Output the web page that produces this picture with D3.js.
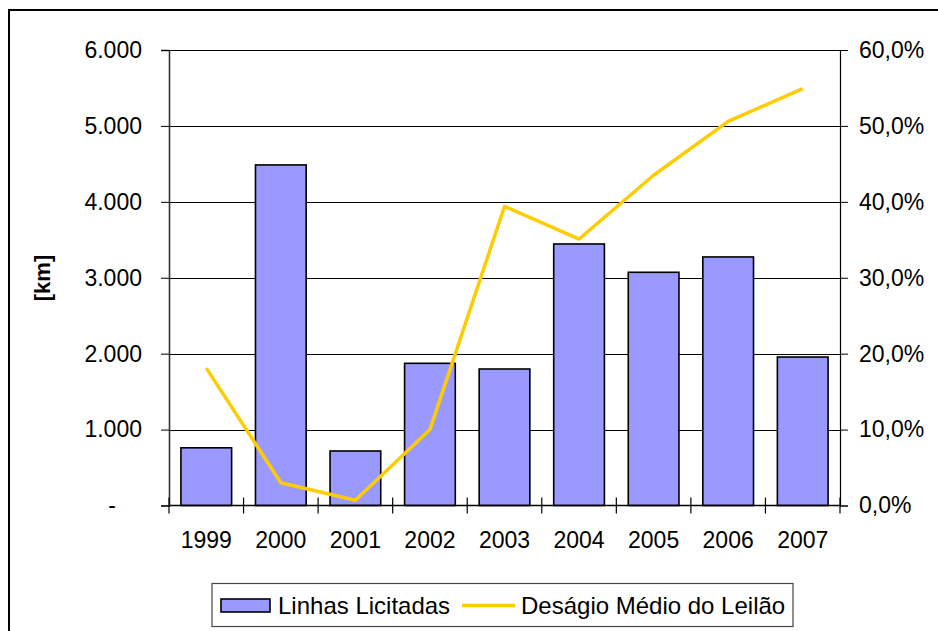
<!DOCTYPE html>
<meta charset="utf-8">
<head>
    <script src="https://d3js.org/d3.v7.min.js"></script>
    <style>
        body { margin: 0; background: #fff; }
        text { font-family: "Liberation Sans", Arial, Helvetica, sans-serif; fill: #000; }
    </style>
</head>
<body>
<div id="graph"></div>
<script>
    // data
    var years = ["1999", "2000", "2001", "2002", "2003", "2004", "2005", "2006", "2007"];
    var linhas = [760, 4486, 718, 1873, 1798, 3445, 3072, 3274, 1956];      // km
    var desagio = [18.1, 3.0, 0.7, 10.0, 39.4, 35.1, 43.5, 50.6, 54.9];      // %
    var leftTicks = [0, 1000, 2000, 3000, 4000, 5000, 6000];
    var rightTicks = [0, 10, 20, 30, 40, 50, 60];
    var seriesNames = ["Linhas Licitadas", "Deságio Médio do Leilão"];

    var W = 938, H = 631;
    var margin = {top: 50, right: 98, bottom: 125.5, left: 169};
    var width = W - margin.left - margin.right,
        height = H - margin.top - margin.bottom;

    var svg = d3.select("#graph").append("svg")
        .attr("width", W)
        .attr("height", H);

    // outer frame (runs off the right/bottom)
    svg.append("rect")
        .attr("x", 9).attr("y", 10)
        .attr("width", 960).attr("height", 660)
        .attr("fill", "none").attr("stroke", "#000").attr("stroke-width", 2);

    var g = svg.append("g")
        .attr("transform", "translate(" + margin.left + "," + margin.top + ")");

    var x = d3.scaleBand().domain(years).range([0, width]).paddingInner(0.32).paddingOuter(0.16);
    var xTick = d3.scaleBand().domain(years).range([0, width]);
    var yL = d3.scaleLinear().domain([0, 6000]).range([height, 0]);
    var yR = d3.scaleLinear().domain([0, 60]).range([height, 0]);

    // gridlines
    g.append("g")
        .selectAll("line")
        .data(leftTicks.slice(1))
        .enter().append("line")
        .attr("x1", 0).attr("x2", width)
        .attr("y1", function(d) { return Math.round(yL(d)) + 0.5; })
        .attr("y2", function(d) { return Math.round(yL(d)) + 0.5; })
        .attr("stroke", "#000").attr("stroke-width", 1);

    // bars
    g.append("g")
        .selectAll("rect")
        .data(years)
        .enter().append("rect")
        .attr("x", function(d) { return x(d); })
        .attr("y", function(d, i) { return yL(linhas[i]); })
        .attr("width", x.bandwidth())
        .attr("height", function(d, i) { return height - yL(linhas[i]); })
        .attr("fill", "#9999FF")
        .attr("stroke", "#000").attr("stroke-width", 1.6);

    // left axis
    var fmtL = function(d) { return d === 0 ? "-" : d3.format(",")(d).replace(/,/g, "."); };
    var axL = g.append("g")
        .call(d3.axisLeft(yL).tickValues(leftTicks).tickSize(8).tickPadding(19).tickFormat(fmtL));
    axL.select(".domain").attr("stroke", "#333").attr("stroke-width", 1.6);
    axL.selectAll(".tick line").attr("stroke", "#000");
    axL.selectAll("text").style("font-size", "23px").attr("font-family", null)
        .attr("dx", function(d) { return d === 0 ? "-26px" : null; });

    // right axis
    var fmtR = function(d) { return d.toFixed(1).replace(".", ",") + "%"; };
    var axR = g.append("g")
        .attr("transform", "translate(" + width + ",0)")
        .call(d3.axisRight(yR).tickValues(rightTicks).tickSize(8).tickPadding(11).tickFormat(fmtR));
    axR.select(".domain").attr("stroke", "#000").attr("stroke-width", 1.2);
    axR.selectAll(".tick line").attr("stroke", "#000");
    axR.selectAll("text").style("font-size", "23px").attr("font-family", null);

    // bottom axis: ticks between categories, crossing the axis line
    g.append("line")
        .attr("x1", 0).attr("x2", width)
        .attr("y1", height).attr("y2", height)
        .attr("stroke", "#000").attr("stroke-width", 1.6);
    g.append("g")
        .selectAll("line")
        .data(years.concat(["end"]))
        .enter().append("line")
        .attr("x1", function(d, i) { return i * xTick.step(); })
        .attr("x2", function(d, i) { return i * xTick.step(); })
        .attr("y1", height - 8).attr("y2", height + 8)
        .attr("stroke", "#000").attr("stroke-width", 1.2);
    g.append("g")
        .selectAll("text")
        .data(years)
        .enter().append("text")
        .attr("x", function(d) { return xTick(d) + xTick.bandwidth() / 2; })
        .attr("y", height + 42.5)
        .attr("text-anchor", "middle")
        .style("font-size", "23px")
        .text(function(d) { return d; });

    // line
    var line = d3.line()
        .x(function(d, i) { return xTick(years[i]) + xTick.bandwidth() / 2; })
        .y(function(d) { return yR(d); });
    g.append("path")
        .datum(desagio)
        .attr("d", line)
        .attr("fill", "none")
        .attr("stroke", "#FFCC00")
        .attr("stroke-width", 3.5)
        .attr("stroke-linejoin", "round");

    // y axis label
    svg.append("text")
        .attr("transform", "translate(50,278) rotate(-90)")
        .attr("text-anchor", "middle")
        .style("font-size", "22px")
        .style("font-weight", "bold")
        .text("[km]");

    // legend
    var lg = svg.append("g");
    lg.append("rect")
        .attr("x", 212).attr("y", 583.5).attr("width", 581).attr("height", 43)
        .attr("fill", "#fff").attr("stroke", "#444").attr("stroke-width", 1.2);
    lg.append("rect")
        .attr("x", 221).attr("y", 599).attr("width", 49).attr("height", 13)
        .attr("fill", "#9999FF").attr("stroke", "#000").attr("stroke-width", 1.6);
    lg.append("text")
        .attr("x", 278).attr("y", 614)
        .style("font-size", "24px")
        .text(seriesNames[0]);
    lg.append("line")
        .attr("x1", 462).attr("x2", 515).attr("y1", 605.5).attr("y2", 605.5)
        .attr("stroke", "#FFCC00").attr("stroke-width", 3.5);
    lg.append("text")
        .attr("x", 521).attr("y", 614)
        .style("font-size", "24px")
        .text(seriesNames[1]);
</script>
</body>
